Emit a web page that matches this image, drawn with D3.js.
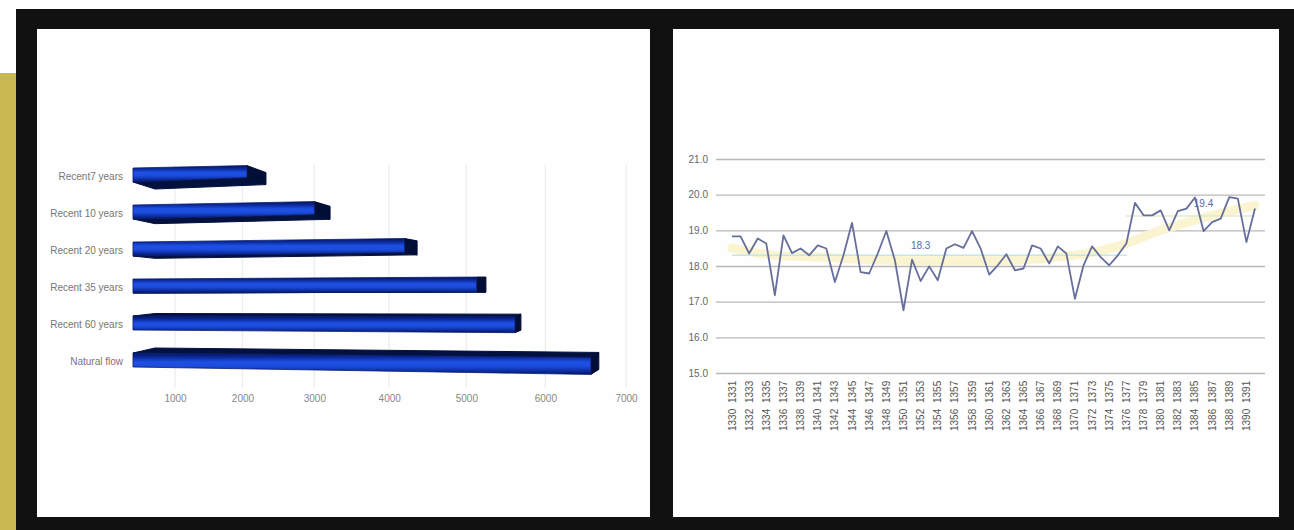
<!DOCTYPE html>
<html>
<head>
<meta charset="utf-8">
<script src="https://d3js.org/d3.v7.min.js"></script>
<style>
html, body { margin: 0; padding: 0; background: #fff; overflow: hidden; }
svg { display: block; }
text { font-family: "Liberation Sans", Arial, sans-serif; }
</style>
</head>
<body>
<div id="chart"></div>
<script>
// Flow volume by period (horizontal 3D bars)
const flowPeriods = ["Recent7 years", "Recent 10 years", "Recent 20 years", "Recent 35 years", "Recent 60 years", "Natural flow"];
const flowValues = [2332, 3213, 4365, 5250, 5693, 6665];
const flowTicks = [1000, 2000, 3000, 4000, 5000, 6000, 7000];

// Annual series 1330-1391
const firstYear = 1330;
const annualValues = [
  18.83, 18.83, 18.35, 18.77, 18.63, 17.18, 18.86, 18.36, 18.49, 18.30,
  18.58, 18.49, 17.55, 18.30, 19.21, 17.83, 17.79, 18.35, 18.98, 18.16,
  16.76, 18.18, 17.58, 17.99, 17.60, 18.49, 18.61, 18.51, 18.98, 18.49,
  17.76, 18.02, 18.33, 17.88, 17.93, 18.58, 18.49, 18.07, 18.55, 18.35,
  17.08, 18.02, 18.55, 18.25, 18.02, 18.30, 18.63, 19.77, 19.42, 19.42,
  19.56, 19.00, 19.54, 19.61, 19.92, 18.98, 19.23, 19.33, 19.93, 19.89,
  18.67, 19.61
];
const years = annualValues.map((_, i) => firstYear + i);
const annualTicks = [15, 16, 17, 18, 19, 20, 21];

// Smoothed trend, read at selected years
const trendYears = [1330, 1335, 1340, 1350, 1360, 1370, 1375, 1380, 1385, 1391];
const trendValues = [18.50, 18.30, 18.25, 18.15, 18.15, 18.30, 18.55, 19.00, 19.35, 19.70];

// Period means with their labels
const meanSpans = [
  { from: 1330, to: 1376, value: 18.3, label: "18.3", labelYear: 1352 },
  { from: 1376, to: 1391, value: 19.4, label: "19.4", labelYear: 1385 }
];

const W = 1294, H = 530;
const svg = d3.select("#chart").append("svg").attr("width", W).attr("height", H);

// Page backdrop, black frame and the two white panels
svg.append("rect").attr("x", 0).attr("y", 73).attr("width", 17).attr("height", H - 73).attr("fill", "#c7b853");
svg.append("rect").attr("x", 16).attr("y", 9).attr("width", W - 16).attr("height", H - 9).attr("fill", "#111");
svg.append("rect").attr("x", 37).attr("y", 29).attr("width", 613).attr("height", 488).attr("fill", "#fefefe");
svg.append("rect").attr("x", 673).attr("y", 29).attr("width", 606).attr("height", 488).attr("fill", "#fefefe");

// ---- Bar chart ----
const defs = svg.append("defs");
const grad = defs.append("linearGradient").attr("id", "barFace").attr("x1", 0).attr("x2", 0).attr("y1", 0).attr("y2", 1);
[[0, "#04135c"], [0.2, "#0b2a9c"], [0.42, "#1e50e4"], [0.62, "#1c4cdc"], [0.85, "#0c2c9e"], [1, "#04135c"]]
  .forEach(([o, c]) => grad.append("stop").attr("offset", o).attr("stop-color", c));

// The axis spreads out toward the viewer, hence the power scale
const xFlow = d3.scalePow().exponent(1.12).domain([1000, 7000]).range([175, 626]);
const flowBase = 310;
const yFlow = d3.scalePoint().domain(flowPeriods).range([175, 360]);

const gridBars = svg.append("g");
gridBars.selectAll("line").data(flowTicks).join("line")
  .attr("x1", d => xFlow(d)).attr("x2", d => xFlow(d))
  .attr("y1", 165).attr("y2", 388)
  .attr("stroke", "#ececec").attr("stroke-width", 1.2);

const flowAxis = svg.append("g").attr("transform", "translate(0,392)")
  .call(d3.axisBottom(xFlow).tickValues(flowTicks).tickSize(0).tickFormat(d3.format("d")));
flowAxis.select(".domain").remove();
flowAxis.selectAll("text").attr("font-size", 10).attr("fill", "#888").attr("font-family", "Liberation Sans");

const periodAxis = svg.append("g").attr("transform", "translate(123,1)")
  .call(d3.axisLeft(yFlow).tickSize(0).tickPadding(0));
periodAxis.select(".domain").remove();
periodAxis.selectAll("text").attr("font-size", 10).attr("fill", "#777").attr("font-family", "Liberation Sans");

// Projection of each bar depends on its row
const tilt = d3.scaleLinear().domain([0, 5]).range([-0.03, 0.013]);
const endHeight = d3.scaleLinear().domain([0, 5]).range([12, 17]);
const capDepth = d3.scaleLinear().domain([0, 4, 5]).range([19, 6, 8]);
const sideDrop = d3.scaleLinear().domain([0, 3, 5]).range([7, 0, -5]);
const startHeight = 14, sideInset = 22;

const pts = p => p.map(q => q.join(",")).join(" ");
const bars = svg.append("g").selectAll("g").data(flowValues).join("g");
bars.each(function (v, i) {
  const g = d3.select(this);
  const x0 = xFlow(flowBase), xe = xFlow(v), xf = xe - capDepth(i), dv = sideDrop(i);
  const cy = yFlow(flowPeriods[i]);
  const cyEnd = cy + tilt(i) * (xf - x0);
  const t0 = cy - startHeight / 2, b0 = cy + startHeight / 2;
  const t1 = cyEnd - endHeight(i) / 2, b1 = cyEnd + endHeight(i) / 2;
  const side = dv >= 0
    ? [[x0, b0], [x0 + sideInset, b0 + dv], [xe, b1 + dv], [xf, b1]]
    : [[x0, t0], [x0 + sideInset, t0 + dv], [xe, t1 + dv], [xf, t1]];
  g.append("polygon").attr("points", pts(side)).attr("fill", "#04113f").attr("stroke", "#04113f").attr("stroke-width", 1);
  g.append("polygon").attr("points", pts([[xf, t1], [xe, t1 + dv], [xe, b1 + dv], [xf, b1]]))
    .attr("fill", "#030e36").attr("stroke", "#030e36").attr("stroke-width", 1);
  g.append("polygon").attr("points", pts([[x0, t0], [xf, t1], [xf, b1], [x0, b0]]))
    .attr("fill", "url(#barFace)").attr("stroke", "#0a1f70").attr("stroke-width", 0.8);
});

// ---- Annual line chart ----
const xYear = d3.scalePoint().domain(years).range([732, 1255]);
const yVal = d3.scaleLinear().domain([15, 21]).range([373, 159]);

const valAxis = svg.append("g").attr("transform", "translate(716,0)")
  .call(d3.axisLeft(yVal).tickValues(annualTicks).tickSize(-549).tickPadding(8).tickFormat(d3.format(".1f")));
valAxis.select(".domain").remove();
valAxis.selectAll("line").attr("stroke", "#b8b8b8").attr("stroke-width", 1.4);
valAxis.selectAll("text").attr("font-size", 10).attr("fill", "#666").attr("font-family", "Liberation Sans");

const trendLine = d3.line().x((d, i) => xYear(trendYears[i])).y(d => yVal(d)).curve(d3.curveMonotoneX);
svg.append("path").attr("d", trendLine(trendValues))
  .attr("fill", "none").attr("stroke", "#fbf4d0").attr("stroke-width", 9).attr("stroke-linecap", "round");

svg.append("g").selectAll("line").data(meanSpans).join("line")
  .attr("x1", d => xYear(d.from)).attr("x2", d => xYear(d.to))
  .attr("y1", d => yVal(d.value)).attr("y2", d => yVal(d.value))
  .attr("stroke", (d, i) => i === 0 ? "#c6e6e4" : "#e3ebcb").attr("stroke-width", 1.4);

const seriesLine = d3.line().x((d, i) => xYear(years[i])).y(d => yVal(d));
svg.append("path").attr("d", seriesLine(annualValues))
  .attr("fill", "none").attr("stroke", "#666e9c").attr("stroke-width", 1.8).attr("stroke-linejoin", "round");

svg.append("g").selectAll("text").data(meanSpans).join("text")
  .attr("x", d => xYear(d.labelYear)).attr("y", (d, i) => yVal(d.value) - (i === 0 ? 6 : 9))
  .attr("text-anchor", "middle").attr("font-size", 10).attr("fill", "#5a6aa8")
  .text(d => d.label);

// Year labels in two rows, evens below and odds above
const rowYears = years.filter(y => (y - firstYear) % 2 === 0);
const yearRows = svg.append("g").attr("font-size", 10).attr("fill", "#555");
yearRows.selectAll("text.even").data(rowYears).join("text").attr("class", "even")
  .attr("transform", d => `translate(${xYear(d) + 3.5},431) rotate(-90)`).text(d => d);
yearRows.selectAll("text.odd").data(rowYears).join("text").attr("class", "odd")
  .attr("transform", d => `translate(${xYear(d) + 3.5},403) rotate(-90)`).text(d => d + 1);
</script>
</body>
</html>
